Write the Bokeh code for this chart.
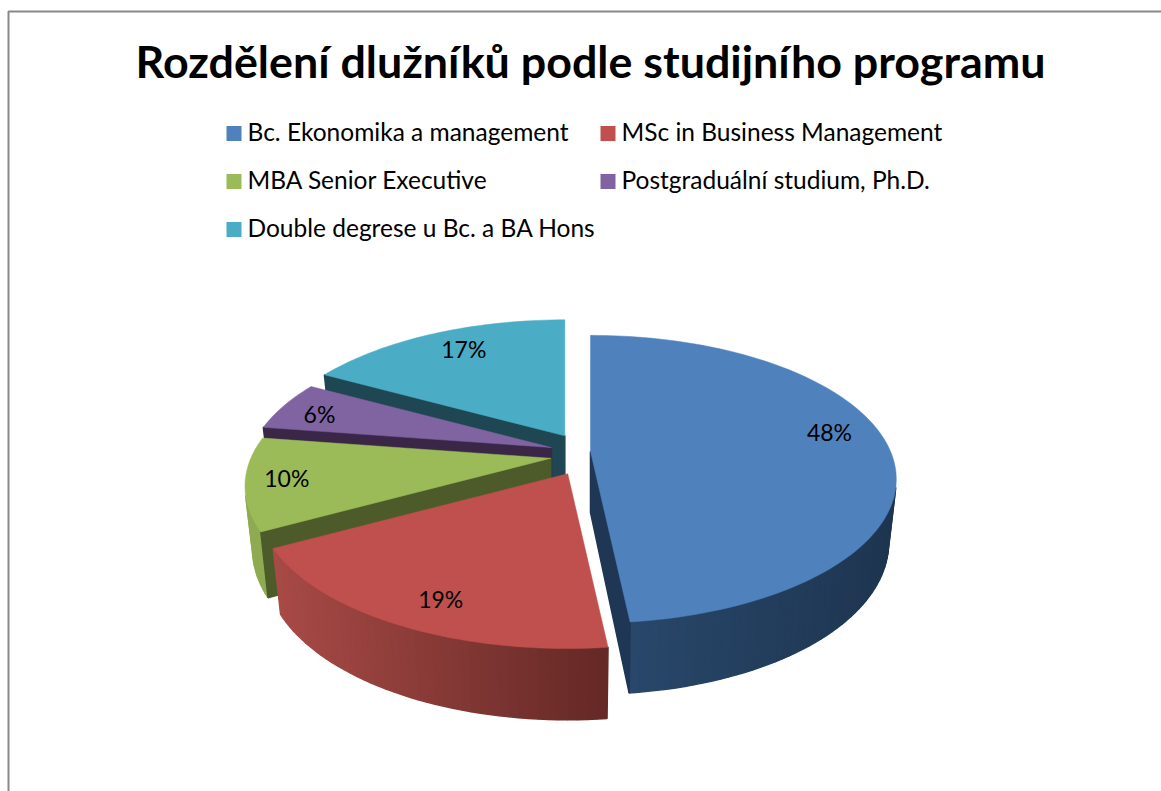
import math
from bokeh.plotting import figure
from bokeh.models import Range1d
from bokeh.core.properties import value
from bokeh.embed import file_html
from bokeh.resources import INLINE

title = "Rozdělení dlužníků podle studijního programu"
categories = ["Bc. Ekonomika a management", "MSc in Business Management", "MBA Senior Executive",
              "Postgraduální studium, Ph.D.", "Double degrese u Bc. a BA Hons"]
shares = [48.3, 18.7, 10.4, 5.6, 17.0]
colors = ["#4F81BD", "#C0504D", "#9BBB59", "#8064A2", "#4BACC6"]
# layout of the 3-D pie
wall_left = ["#2A4A6E", "#A84A46", "#8FAB52", "#5F4A7C", "#36788A"]
wall_right = ["#1E3550", "#642826", "#8FAB52", "#5F4A7C", "#36788A"]
radial_wall = ["#1F3654", "#5E2625", "#4D5B2A", "#3A2748", "#1F4753"]
apex_dx = [-1, 4, -3, -3, 2]
apex_dy = [-2, 0, 0, 0, 0]
slice_scale = [1.0, 1.014, 1.0, 1.0, 1.0]
label_dx = [239, -127, -264, -232, -101]
label_dy = [-19, 125, 20, -34, -87]
paint_order = [4, 3, 2, 0, 1]

W, H = 1161, 791
FONT = "Lato"
CX, CY, EX, EY = 572, 454, 19, 21.7
R, A, B = 300, 138.5, 0.194
XSHRINK = 0.975

p = figure(width=W, height=H, output_backend="svg", toolbar_location=None,
           x_range=Range1d(0, W), y_range=Range1d(H, 0), min_border=0, outline_line_color=None)
p.axis.visible = False
p.grid.visible = False
p.background_fill_color = "white"
p.border_fill_color = "white"

# chart frame
p.line([8, 8, W], [H, 11, 11], line_color="#898989", line_width=2)


def top(apex, X, Y):
    s = 1 / (1 + B * Y)
    return apex[0] + R * X * s, apex[1] - A * Y * s


def low(apex, X, Y):
    s = 1 / (1 + B * Y)
    return apex[0] + R * X * s * XSHRINK, apex[1] - A * Y * s + 61 - 10 * Y


def area(pts):
    return sum(pts[i][0] * -pts[(i + 1) % 4][1] - pts[(i + 1) % 4][0] * -pts[i][1] for i in range(4))


def hex_mix(a, b, t):
    ca = [int(a[i:i + 2], 16) for i in (1, 3, 5)]
    cb = [int(b[i:i + 2], 16) for i in (1, 3, 5)]
    return "#%02x%02x%02x" % tuple(round(u + (v - u) * t) for u, v in zip(ca, cb))


def quad(pts, color):
    if area(pts) > 0:
        p.patch([q[0] for q in pts], [q[1] for q in pts], fill_color=color, line_color=color, line_width=1.5)


starts = []
acc = 0
for v in shares:
    starts.append(acc)
    acc += v

apexes = []
for st, v, ndx, ndy in zip(starts, shares, apex_dx, apex_dy):
    mid = math.radians((st + v / 2) * 3.6)
    apexes.append((CX + EX * math.sin(mid) + ndx, CY - EY * math.cos(mid) + ndy))

for i in paint_order:
    a0, a1 = starts[i] * 3.6, (starts[i] + shares[i]) * 3.6
    apex = apexes[i]
    n = max(4, int((a1 - a0) / 1.5))
    angs = [math.radians(a0 + (a1 - a0) * k / n) for k in range(n + 1)]
    pts = [(slice_scale[i] * math.sin(t), slice_scale[i] * math.cos(t)) for t in angs]
    # outer wall, shaded along its length
    xs = [top(apex, X, Y)[0] for X, Y in pts]
    lo, hi = min(xs), max(xs)
    for k in range(n):
        (X0, Y0), (X1, Y1) = pts[k], pts[k + 1]
        t = ((top(apex, X0, Y0)[0] + top(apex, X1, Y1)[0]) / 2 - lo) / (hi - lo)
        quad([top(apex, X0, Y0), top(apex, X1, Y1), low(apex, X1, Y1), low(apex, X0, Y0)],
             hex_mix(wall_left[i], wall_right[i], t))
    # radial walls
    for X, Y, flip in ((pts[0][0], pts[0][1], False), (pts[-1][0], pts[-1][1], True)):
        q = [top(apex, 0, 0), top(apex, X, Y), low(apex, X, Y), low(apex, 0, 0)]
        if flip:
            q = [top(apex, X, Y), top(apex, 0, 0), low(apex, 0, 0), low(apex, X, Y)]
        quad(q, radial_wall[i])
    # top face
    face = [top(apex, 0, 0)] + [top(apex, X, Y) for X, Y in pts]
    p.patch([q[0] for q in face], [q[1] for q in face], fill_color=colors[i], line_color=colors[i], line_width=0.5)
    p.text([apex[0] + label_dx[i]], [apex[1] + label_dy[i]], text=[f"{round(shares[i])}%"],
           text_font=value(FONT), text_font_size="23px", text_color="#000000",
           text_align="center", text_baseline="middle")

# title
p.text([590], [60], text=[title], text_font=value(FONT), text_font_style="bold", text_font_size="44.8px",
       text_color="#000000", text_align="center", text_baseline="middle")

# legend
leg_x = [226, 600, 226, 600, 226]
leg_y = [133, 133, 181, 181, 229]
p.rect([x + 7.5 for x in leg_x], leg_y, width=15, height=15, fill_color=colors, line_color=None)
p.text([x + 21 for x in leg_x], [y - 2 for y in leg_y], text=categories, text_font=value(FONT), text_font_size="24.5px",
       text_color="#000000", text_align="left", text_baseline="middle")

open("out.html", "w").write(file_html(p, INLINE))
